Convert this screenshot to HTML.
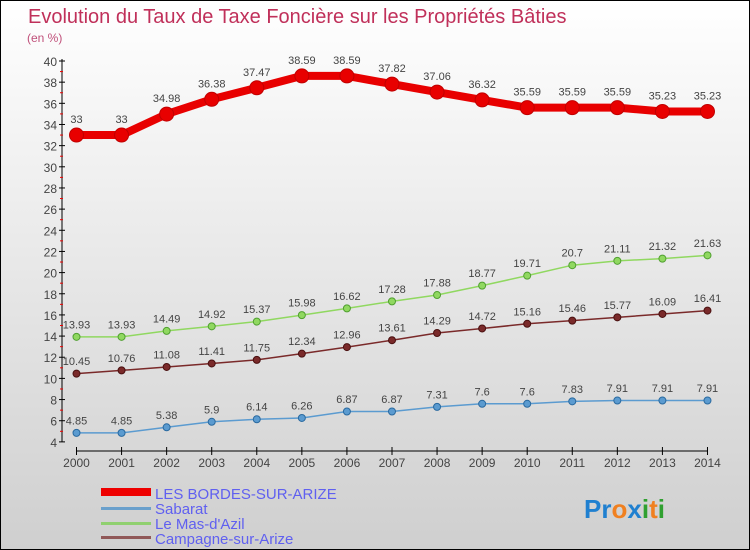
<!DOCTYPE html>
<html><head><meta charset="utf-8"><style>
body{margin:0}
#c{width:748px;height:548px;border:1px solid #000;background:linear-gradient(#ffffff,#cfcfcf);position:relative;overflow:hidden;font-family:"Liberation Sans",sans-serif}
</style></head><body>
<div id="c">
<svg id="s" width="748" height="548" style="position:absolute;left:0;top:0">
<text x="27" y="22" font-size="20" fill="#c0305a">Evolution du Taux de Taxe Foncière sur les Propriétés Bâties</text>
<text x="26" y="41" font-size="12" fill="#c0507a">(en %)</text>
<g id="g"></g>
<g>
<rect x="100" y="487" width="50" height="8" fill="#e00"/>
<text x="154" y="498" font-size="15" fill="#6060f0">LES BORDES-SUR-ARIZE</text>
<rect x="100" y="506" width="50" height="3" fill="#6aa0cc"/>
<text x="154" y="513" font-size="15" fill="#6060f0">Sabarat</text>
<rect x="100" y="521" width="50" height="3" fill="#90d070"/>
<text x="154" y="528" font-size="15" fill="#6060f0">Le Mas-d'Azil</text>
<rect x="100" y="535" width="50" height="3" fill="#905858"/>
<text x="154" y="543" font-size="15" fill="#6060f0">Campagne-sur-Arize</text>
</g>
<text x="583" y="517" font-size="26" font-weight="bold"><tspan fill="#2080d0">Pr</tspan><tspan fill="#f08020">o</tspan><tspan fill="#2080d0">x</tspan><tspan fill="#30a030">i</tspan><tspan fill="#f08020">t</tspan><tspan fill="#30a030">i</tspan></text>
</svg>
</div>
<script>
const years=[2000,2001,2002,2003,2004,2005,2006,2007,2008,2009,2010,2011,2012,2013,2014];
const yTicks=[4,6,8,10,12,14,16,18,20,22,24,26,28,30,32,34,36,38,40];
const bordes=[33,33,34.98,36.38,37.47,38.59,38.59,37.82,37.06,36.32,35.59,35.59,35.59,35.23,35.23];
const sabarat=[4.85,4.85,5.38,5.9,6.14,6.26,6.87,6.87,7.31,7.6,7.6,7.83,7.91,7.91,7.91];
const masdazil=[13.93,13.93,14.49,14.92,15.37,15.98,16.62,17.28,17.88,18.77,19.71,20.7,21.11,21.32,21.63];
const campagne=[10.45,10.76,11.08,11.41,11.75,12.34,12.96,13.61,14.29,14.72,15.16,15.46,15.77,16.09,16.41];
const X=i=>75.5+i*45.07, Y=v=>60+(40-v)*10.58;
const g=document.getElementById('g'),NS='http://www.w3.org/2000/svg';
function mk(t,a){const e=document.createElementNS(NS,t);for(const k in a)e.setAttribute(k,a[k]);g.appendChild(e);return e;}
let e=mk('line',{x1:61,y1:58,x2:61,y2:441,stroke:'#000'});


e=mk('line',{x1:75,y1:450,x2:707,y2:450,stroke:'#000'});


yTicks.forEach(v=>{
 e=mk('line',{x1:58,y1:Y(v),x2:64,y2:Y(v),stroke:'#000'});
 
 
 e=mk('text',{x:56,y:Y(v)+5,'font-size':12,fill:'#444','text-anchor':'end'});e.textContent=v;
 
 
 if(v<40){e=mk('line',{x1:59,y1:Y(v+1),x2:62,y2:Y(v+1),stroke:'#e00'});
 
 }
});
years.forEach((yr,i)=>{
 e=mk('line',{x1:X(i),y1:446,x2:X(i),y2:454,stroke:'#000'});
 
 
 e=mk('text',{x:X(i),y:466,'font-size':12,fill:'#444','text-anchor':'middle'});e.textContent=yr;
 
 
});
function series(d,col,w,r,name,dark){
 e=mk('polyline',{points:d.map((v,i)=>X(i)+','+Y(v)).join(' '),fill:'none',stroke:col,'stroke-width':w,'stroke-linejoin':'round'});
 
 
 d.forEach((v,i)=>{
  e=mk('circle',{cx:X(i),cy:Y(v),r:r,fill:col,stroke:dark,'stroke-width':1});
  
  
  e=mk('text',{x:X(i),y:Y(v)-(r+5),'font-size':11,fill:'#444','text-anchor':'middle'});e.textContent=v;
  
  
 });
}
series(sabarat,'#5b9bd0',1.5,3.5,'sabarat','#2a6aa0');
series(campagne,'#7a2a2a',1.5,3.5,'campagne','#4a1010');
series(masdazil,'#90d860',1.5,3.5,'mas-dazil','#50a030');
series(bordes,'#e80000',8,7,'bordes','#c00000');
</script>
</body></html>
